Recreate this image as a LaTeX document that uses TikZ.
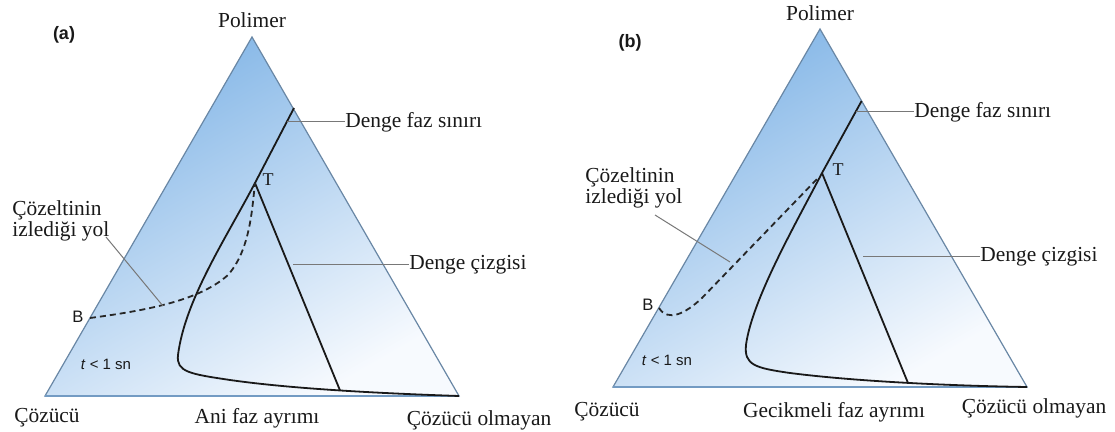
\documentclass[tikz,border=0pt]{standalone}
\usepackage{fontspec}
\setmainfont{Liberation Serif}
\newfontfamily\arialf{Liberation Sans}
\definecolor{cdark}{RGB}{128,180,230}
\definecolor{cmid}{RGB}{210,228,246}
\definecolor{clight}{RGB}{247,250,254}
\definecolor{edgec}{RGB}{105,135,165}
\definecolor{basec}{RGB}{115,155,195}
\definecolor{txt}{RGB}{25,25,25}
\definecolor{leadc}{RGB}{120,120,120}
\begin{document}
\begin{tikzpicture}[x=0.5pt,y=-0.5pt,
  lbl/.style={font=\fontsize{10.7}{10.5}\selectfont, text=txt, inner sep=0pt},
  tlbl/.style={font=\fontsize{9}{10}\selectfont, text=txt, inner sep=0pt},
  sanslbl/.style={font=\arialf\fontsize{8.3}{9}\selectfont, text=txt, inner sep=0pt},
  timelbl/.style={font=\arialf\fontsize{7.5}{9}\selectfont, text=txt, inner sep=0pt},
  panellbl/.style={font=\arialf\bfseries\fontsize{9}{10}\selectfont, text=txt, inner sep=0pt},
  tri/.style={draw=edgec, line width=0.6pt},
  base/.style={draw=basec, line width=1pt},
  fill tri/.style={top color=cdark, middle color=cmid, bottom color=clight, shading angle=30},
  curve/.style={draw=black!90, line width=0.9pt},
  pathd/.style={draw=black!85, line width=0.9pt, dash pattern=on 3pt off 2pt},
  leader/.style={draw=leadc, line width=0.5pt}]
\useasboundingbox (0,0) rectangle (1115,432);
\fill[white] (0,0) rectangle (1115,432);

% ---------------- panel (a) ----------------
\coordinate (Pa) at (252,37);
\coordinate (Sa) at (45,396);
\coordinate (Na) at (459,396);
\shade[fill tri] (Pa) -- (Sa) -- (Na) -- cycle;
\draw[tri] (Pa) -- (Sa) -- (Na) -- cycle;
\draw[base] (Sa) -- (Na);

\coordinate (Ea) at (294,108);
\coordinate (Ta) at (255,183);
\coordinate (Ka) at (340,390.4);
\coordinate (Ba) at (90,318);
\draw[curve] (Ea) -- (Ta) .. controls (225,240) and (185,300) .. (178,355)
  .. controls (176,372) and (190,374) .. (230,380)
  .. controls (300,390) and (400,394) .. (Na);
\draw[curve] (Ta) -- (Ka);
\draw[pathd] (Ba) .. controls (150,310) and (200,300) .. (228,275)
  .. controls (250,250) and (252,210) .. (Ta);

\node[lbl] (pola) at (252,20) {Polimer};
\node[panellbl] (laba) at (64,35) {(a)};
\node[tlbl] (Tla) at (268,180) {T};
\node[lbl, anchor=west] (dfsa) at (345,122) {Denge faz sınırı};
\node[lbl, anchor=west] (dca) at (409,265) {Denge çizgisi};
\node[lbl, anchor=west, align=left] (cia) at (12,221) {Çözeltinin\\izlediği yol};
\node[sanslbl] (Bla) at (78,317) {B};
\node[timelbl] (ta) at (106,364) {\textit{t} < 1 sn};
\node[lbl] (cza) at (47,418) {Çözücü};
\node[lbl] (ania) at (257,418) {Ani faz ayrımı};
\node[lbl] (coa) at (479,420) {Çözücü olmayan};

\coordinate (la1) at (286.7,122);
\coordinate (la2) at (293,265);
\coordinate (la3) at (163,306);
\coordinate (la3s) at (106,237);
\draw[leader] (la1) -- (dfsa.west);
\draw[leader] (la2) -- (dca.west);
\draw[leader] (la3s) -- (la3);

% ---------------- panel (b) ----------------
\coordinate (Pb) at (820,29);
\coordinate (Sb) at (613,387);
\coordinate (Nb) at (1027,387);
\shade[fill tri] (Pb) -- (Sb) -- (Nb) -- cycle;
\draw[tri] (Pb) -- (Sb) -- (Nb) -- cycle;
\draw[base] (Sb) -- (Nb);

\coordinate (Eb) at (861.6,101);
\coordinate (Tb) at (822,173);
\coordinate (Kb) at (908,383);
\coordinate (Bb) at (659,308);
\draw[curve] (Eb) -- (Tb) .. controls (795,225) and (752,300) .. (746,345)
  .. controls (744,365) and (755,368) .. (790,373)
  .. controls (860,382) and (960,386) .. (Nb);
\draw[curve] (Tb) -- (Kb);
\draw[pathd] (Bb) .. controls (668,322) and (685,314) .. (702,298) -- (817,179);

\node[lbl] (polb) at (820,13) {Polimer};
\node[panellbl] (labb) at (630,43) {(b)};
\node[tlbl] (Tlb) at (838,170) {T};
\node[lbl, anchor=west] (dfsb) at (914,112) {Denge faz sınırı};
\node[lbl, anchor=west] (dcb) at (980,257) {Denge çizgisi};
\node[lbl, anchor=west, align=left] (cib) at (585,188) {Çözeltinin\\izlediği yol};
\node[sanslbl] (Blb) at (648,305) {B};
\node[timelbl] (tb) at (667,360) {\textit{t} < 1 sn};
\node[lbl] (czb) at (607,412) {Çözücü};
\node[lbl] (gecb) at (834,412) {Gecikmeli faz ayrımı};
\node[lbl] (cob) at (1034,408) {Çözücü olmayan};

\coordinate (lb1) at (855.5,112);
\coordinate (lb2) at (863,257);
\coordinate (lb3) at (730,262);
\coordinate (lb3s) at (655,215);
\draw[leader] (lb1) -- (dfsb.west);
\draw[leader] (lb2) -- (dcb.west);
\draw[leader] (lb3s) -- (lb3);
\end{tikzpicture}
\end{document}
